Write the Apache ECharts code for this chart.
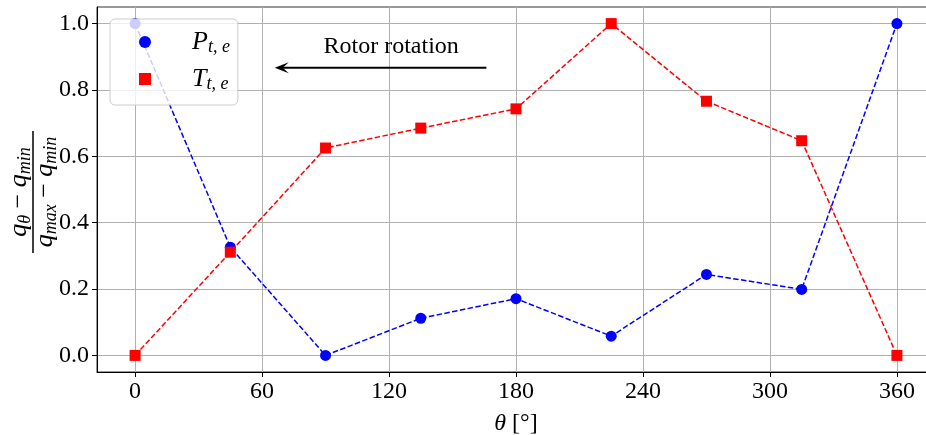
<!DOCTYPE html>
<html>
<head>
<meta charset="utf-8">
<script src="https://cdn.jsdelivr.net/npm/echarts@6/dist/echarts.min.js"></script>
<style>
  html, body { margin: 0; padding: 0; background: #fff; }
  #chart { width: 926px; height: 435px; }
</style>
</head>
<body>
<div id="chart"></div>
<script>
// Rotor angle positions (degrees)
const thetaDeg = [0, 45, 90, 135, 180, 225, 270, 315, 360];
// Normalised P_{t,e} and T_{t,e}: (q - q_min) / (q_max - q_min)
const pNorm = [1.0, 0.326, 0.0, 0.112, 0.171, 0.058, 0.244, 0.199, 1.0];
const tNorm = [0.0, 0.311, 0.625, 0.685, 0.743, 1.0, 0.766, 0.647, 0.0];
// Axis ticks
const xTicks = [0, 60, 120, 180, 240, 300, 360];
const yTicks = [0.0, 0.2, 0.4, 0.6, 0.8, 1.0];
// Axis extents (5% padding around the data)
const xRange = [-18, 378];
const yRange = [-0.05, 1.05];
// Annotation: label and arrow pointing in the direction of rotation
const noteText = 'Rotor rotation';
const notePos = [121, 0.929];
const arrowFrom = [166, 0.867];
const arrowTo = [66, 0.867];

const FONT = '"Liberation Serif", "Times New Roman", serif';

const chart = echarts.init(document.getElementById('chart'), null, { renderer: 'canvas' });

const pairs = (xs, ys) => xs.map((x, i) => [x, ys[i]]);

const dashed = { type: [5.5, 2.4], width: 1.5 };

chart.setOption({
  animation: false,
  backgroundColor: '#ffffff',
  grid: {
    left: 97, top: 7, width: 838, height: 365,
    outerBoundsMode: 'none',
    containLabel: false,
    show: true, borderColor: '#333', borderWidth: 1, backgroundColor: 'transparent'
  },
  xAxis: {
    type: 'value',
    min: xRange[0], max: xRange[1],
    name: '{i|θ} [°]',
    nameLocation: 'middle',
    nameGap: 40,
    nameTextStyle: {
      fontFamily: FONT, fontSize: 24, color: '#000',
      rich: { i: { fontFamily: FONT, fontSize: 24, fontStyle: 'italic', color: '#000' } }
    },
    axisLine: { show: true, onZero: false, lineStyle: { color: '#000', width: 1 } },
    axisTick: { show: true, length: 5, inside: false, customValues: xTicks, lineStyle: { color: '#000' } },
    axisLabel: {
      customValues: xTicks, margin: 8, fontFamily: FONT, fontSize: 24, color: '#000'
    },
    splitLine: { show: true, lineStyle: { color: '#b0b0b0', width: 1 } }
  },
  yAxis: {
    type: 'value',
    min: yRange[0], max: yRange[1],
    axisLine: { show: true, onZero: false, lineStyle: { color: '#000', width: 1 } },
    axisTick: { show: true, length: 5, inside: false, customValues: yTicks, lineStyle: { color: '#000' } },
    axisLabel: {
      customValues: yTicks, margin: 8, fontFamily: FONT, fontSize: 24, color: '#000',
      formatter: v => v.toFixed(1)
    },
    splitLine: { show: true, lineStyle: { color: '#b0b0b0', width: 1 } }
  },
  legend: {
    orient: 'vertical',
    left: 110, top: 19,
    padding: [10, 8, 12, 29],
    itemWidth: 12, itemHeight: 12, itemGap: 10,
    backgroundColor: 'rgba(255,255,255,0.8)',
    borderColor: '#cccccc', borderWidth: 1, borderRadius: 5,
    selectedMode: false,
    z: 10,
    data: [
      { name: 'P', icon: 'circle' },
      { name: 'T', icon: 'rect' }
    ],
    formatter: name => '{m|' + name + '}{s|t, e}',
    textStyle: {
      rich: {
        m: { fontFamily: FONT, fontStyle: 'italic', fontSize: 26, color: '#000', lineHeight: 28, padding: [0, 0, 0, 36] },
        s: { fontFamily: FONT, fontStyle: 'italic', fontSize: 18, color: '#000', lineHeight: 12, verticalAlign: 'bottom' }
      }
    }
  },
  series: [
    {
      name: 'P', type: 'line',
      data: pairs(thetaDeg, pNorm),
      symbol: 'circle', symbolSize: 11,
      itemStyle: { color: '#0000ff' },
      lineStyle: Object.assign({ color: '#0000ff' }, dashed),
      z: 3
    },
    {
      name: 'T', type: 'line',
      data: pairs(thetaDeg, tNorm),
      symbol: 'rect', symbolSize: 11,
      itemStyle: { color: '#ff0000' },
      lineStyle: Object.assign({ color: '#ff0000' }, dashed),
      z: 4
    }
  ]
});

// Annotation and fraction-style y-axis title, placed through the grid's coordinate system
const toPx = p => chart.convertToPixel({ gridIndex: 0 }, p);
const tp = toPx(notePos);
const a0 = toPx(arrowFrom);
const a1 = toPx(arrowTo);

const fracRich = {
  v: { fontFamily: FONT, fontStyle: 'italic', fontSize: 26, fill: '#000', lineHeight: 30 },
  s: { fontFamily: FONT, fontStyle: 'italic', fontSize: 18, fill: '#000', lineHeight: 12, verticalAlign: 'bottom' },
  o: { fontFamily: FONT, fontSize: 26, fill: '#000', lineHeight: 30 }
};

chart.setOption({
  graphic: [
    {
      type: 'text', x: tp[0], y: tp[1], z: 20,
      style: { text: noteText, font: '24px ' + FONT, fill: '#000', align: 'center', verticalAlign: 'middle' }
    },
    {
      type: 'line', z: 20,
      shape: { x1: a0[0], y1: a0[1], x2: a1[0] + 6, y2: a1[1] },
      style: { stroke: '#000', lineWidth: 2 }
    },
    {
      type: 'polygon', z: 20,
      shape: { points: [[a1[0], a1[1]], [a1[0] + 14, a1[1] - 5.5], [a1[0] + 8, a1[1]], [a1[0] + 14, a1[1] + 5.5]] },
      style: { fill: '#000' }
    },
    {
      type: 'group', x: 33, y: 192, rotation: Math.PI / 2, z: 20,
      children: [
        { type: 'line', shape: { x1: -61, y1: 0, x2: 61, y2: 0 }, style: { stroke: '#000', lineWidth: 1.5 } },
        {
          type: 'text', x: 0, y: -14,
          style: {
            text: '{v|q}{s|θ}{o| − }{v|q}{s|min}', rich: fracRich,
            align: 'center', verticalAlign: 'middle'
          }
        },
        {
          type: 'text', x: 0, y: 12,
          style: {
            text: '{v|q}{s|max}{o| − }{v|q}{s|min}', rich: fracRich,
            align: 'center', verticalAlign: 'middle'
          }
        }
      ]
    }
  ]
});
</script>
</body>
</html>
